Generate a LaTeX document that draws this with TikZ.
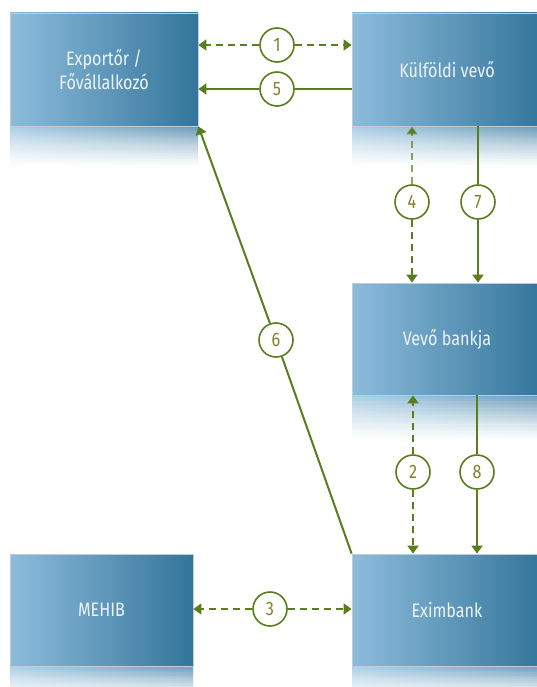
\documentclass[tikz,border=0pt]{standalone}
\usepackage{fontspec}
\setmainfont{Fira Sans}[FakeStretch=0.83]
\usetikzlibrary{arrows.meta}
\definecolor{grn}{HTML}{5A7E1E}
\definecolor{numcol}{HTML}{857F2A}
\definecolor{bxl}{HTML}{8DBCDB}
\definecolor{bxm}{HTML}{62A6CD}
\definecolor{bxr}{HTML}{33759B}
\definecolor{bxline}{HTML}{C3CBD3}
\definecolor{txt}{HTML}{EEF4F8}
\newcommand\reflbox[4]{%
  \foreach \k in {0,...,19}{%
    \pgfmathtruncatemacro\m{round(72*(1-\k/20)^1.3)}%
    \pgfmathsetmacro\ya{#2+#4*\k/20}%
    \fill[left color=bxl!\m!white, middle color=bxm!\m!white, right color=bxr!\m!white, shading angle=90] (#1,\ya) rectangle ++(#3,#4/20+0.5);
  }}
\begin{document}
\begin{tikzpicture}[x=1pt,y=-1pt,
  box/.style={rectangle, inner sep=0, draw=bxline, line width=0.8,
    left color=bxl, middle color=bxm, right color=bxr, shading angle=90,
    text=txt, align=center, font=\fontsize{19.5}{24}\selectfont},
  cnum/.style={circle, draw=grn, line width=1.6, fill=white, minimum size=34,
    inner sep=0, text=numcol, font=\fontsize{19.5}{19.5}\selectfont},
  conn/.style={draw=grn, line width=2},
  dsh/.style={conn, dash pattern=on 7 off 5},
  tip/.style={-{Triangle[width=11,length=8]}}]
\clip (0,0) rectangle (537,687);
\fill[white] (0,0) rectangle (537,687);

% reflections
\reflbox{10}{126}{188}{42}
\reflbox{352}{126}{190}{42}
\reflbox{352}{395}{190}{46}
\reflbox{10}{666}{183}{34}
\reflbox{352}{666}{190}{34}

% boxes
\node[box, minimum width=188, minimum height=113] (exp) at (104,69.5) {Exportőr /\\Fővállalkozó};
\node[box, minimum width=190, minimum height=113] (kv) at (447,69.5) {Külföldi vevő};
\node[box, minimum width=190, minimum height=112] (vb) at (447,339) {Vevő bankja};
\node[box, minimum width=183, minimum height=112] (mehib) at (101.5,610) {MEHIB};
\node[box, minimum width=190, minimum height=112] (exim) at (447,610) {Eximbank};

% number circles
\node[cnum] (c1) at (277,45) {1};
\node[cnum] (c5) at (277,89) {5};
\node[cnum] (c4) at (412,202) {4};
\node[cnum] (c7) at (478,202) {7};
\node[cnum] (c6) at (276,340) {6};
\node[cnum] (c2) at (413,472) {2};
\node[cnum] (c8) at (477,472) {8};
\node[cnum] (c3) at (270,609) {3};

% connectors
\draw[dsh, tip] (c1) -- (c1 -| exp.east);
\draw[dsh, tip] (c1) -- (c1 -| kv.west);
\draw[conn] (c5 -| kv.west) -- (c5);
\draw[conn, tip] (c5) -- (c5 -| exp.east);
\draw[dsh, tip, draw opacity=0.7] (c4) -- (c4 |- kv.south);
\draw[dsh, tip] (c4) -- (c4 |- vb.north);
\draw[conn] (c7 |- kv.south) -- (c7);
\draw[conn, tip] (c7) -- (c7 |- vb.north);
\draw[conn] (exim.north west) -- (c6);
\draw[conn, tip] (c6) -- (exp.south east);
\draw[dsh, tip] (c2) -- (c2 |- vb.south);
\draw[dsh, tip] (c2) -- (c2 |- exim.north);
\draw[conn] (c8 |- vb.south) -- (c8);
\draw[conn, tip] (c8) -- (c8 |- exim.north);
\draw[dsh, tip] (c3) -- (c3 -| mehib.east);
\draw[dsh, tip] (c3) -- (c3 -| exim.west);
\end{tikzpicture}
\end{document}
